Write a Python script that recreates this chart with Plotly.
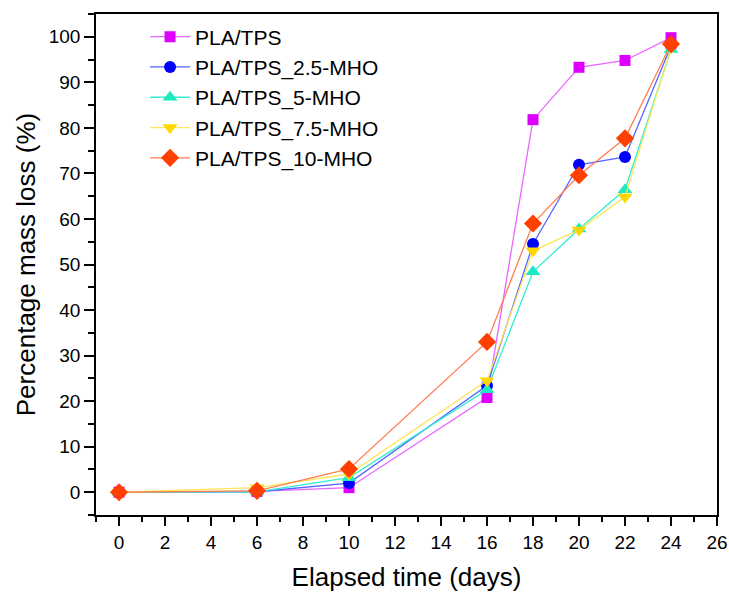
import plotly.graph_objects as go

days = [0, 6, 10, 16, 18, 20, 22, 24]
pla_tps = [0, 0.2, 1.0, 20.8, 81.8, 93.3, 94.8, 99.8]
mho_2_5 = [0, 0.1, 2.0, 23.4, 54.5, 71.9, 73.6, 98.0]
mho_5 = [0, 0.1, 3.2, 22.5, 48.4, 57.8, 66.4, 97.2]
mho_7_5 = [0, 1.0, 4.0, 24.5, 53.0, 57.6, 64.8, 97.6]
mho_10 = [0, 0.3, 5.1, 33.0, 59.0, 69.6, 77.7, 98.4]

names = ["PLA/TPS", "PLA/TPS_2.5-MHO", "PLA/TPS_5-MHO", "PLA/TPS_7.5-MHO", "PLA/TPS_10-MHO"]
series = [pla_tps, mho_2_5, mho_5, mho_7_5, mho_10]
marker_colors = ["#DD00FF", "#0000FF", "#1DE9C0", "#FFD700", "#FF4000"]
line_colors = ["#E866FF", "#5566FF", "#33EED0", "#FFE55C", "#FF7F50"]
symbols = ["square", "circle", "triangle-up", "triangle-down", "diamond"]
sizes = [11, 12, 13, 13, 14]

fig = go.Figure()
for n, s, mc, lc, sym, sz in zip(names, series, marker_colors, line_colors, symbols, sizes):
    fig.add_trace(go.Scatter(
        x=days, y=s, name=n, mode="lines+markers",
        line=dict(color=lc, width=1.3),
        marker=dict(color=mc, symbol=sym, size=sz, line=dict(width=0)),
    ))

fig.update_layout(
    width=729, height=593,
    margin=dict(l=96, r=12, t=14, b=78, autoexpand=False),
    paper_bgcolor="white", plot_bgcolor="white",
    font=dict(family="Liberation Sans, Arial, sans-serif", color="black"),
    showlegend=True,
    legend=dict(x=0.079, y=0.995, xanchor="left", yanchor="top",
                bgcolor="rgba(0,0,0,0)", font=dict(size=21),
                tracegroupgap=0, itemwidth=40),
)
fig.update_xaxes(
    range=[-1, 26], tickmode="array", tickvals=list(range(0, 27, 2)),
    ticks="outside", ticklen=9, tickwidth=1.5, tickcolor="black",
    minor=dict(dtick=1, tick0=0, ticks="outside", ticklen=5, tickwidth=1.5, tickcolor="black"),
    showline=True, linecolor="black", linewidth=1.5, mirror=True,
    showgrid=False, zeroline=False, automargin=False,
    tickfont=dict(size=19),
    title=dict(text="Elapsed time (days)", font=dict(size=26), standoff=16),
)
fig.update_yaxes(
    range=[-5, 105], tickmode="array", tickvals=list(range(0, 101, 10)),
    ticks="outside", ticklen=10, tickwidth=1.5, tickcolor="black",
    minor=dict(dtick=5, tick0=0, ticks="outside", ticklen=6, tickwidth=1.5, tickcolor="black"),
    showline=True, linecolor="black", linewidth=1.5, mirror=True,
    showgrid=False, zeroline=False, automargin=False,
    tickfont=dict(size=19),
    title=dict(text="Percentage mass loss (%)", font=dict(size=26), standoff=6),
)

fig.write_html("out.html")
